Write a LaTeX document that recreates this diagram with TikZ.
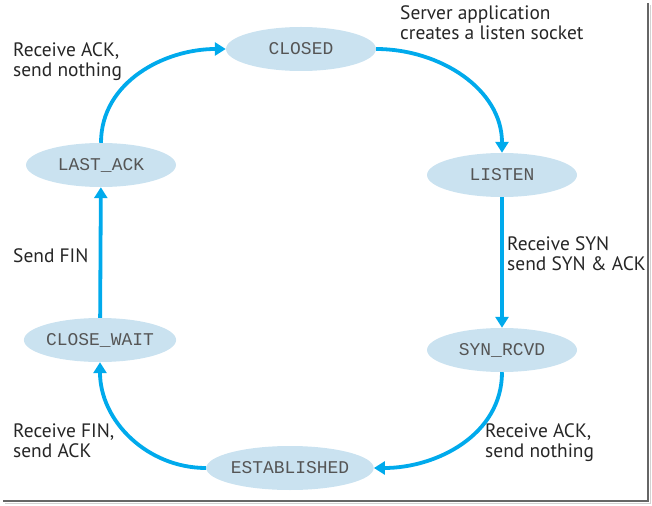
\documentclass[tikz,border=0pt]{standalone}
\usepackage{fontspec}
\setmainfont{PT Sans}
\setmonofont{Liberation Mono}
\usetikzlibrary{arrows.meta,positioning,shapes.geometric}
\definecolor{tcpblue}{RGB}{0,170,236}
\definecolor{tcpfill}{RGB}{202,226,240}
\definecolor{tcpgray}{RGB}{85,85,85}
\tikzset{
  tcpstate/.style={ellipse,fill=tcpfill,minimum width=150bp,minimum height=44bp,
    inner sep=0pt,text=tcpgray,font=\ttfamily\fontsize{18}{18}\selectfont},
  tcpedge/.style={draw=tcpblue,line width=3.8bp,-{Triangle[length=11bp,width=13bp]}},
  tcplabel/.style={anchor=north west,inner sep=0pt,align=left,text=black!85,
    font=\fontsize{19.5}{21}\selectfont}
}

\begin{document}
\begin{tikzpicture}[x=1bp,y=-1bp]
    \useasboundingbox (0,0) rectangle (652,506);
    % frame shadow
    \draw[gray!35,line width=1.5bp] (650.5,5) -- (650.5,503.5) -- (5,503.5);
    \draw[black!60,line width=1.5bp] (648,3) -- (648,501) -- (3,501);
    % states
    \node[tcpstate] (closed)    at (301,49)  {CLOSED};
    \node[tcpstate] (lastack)   at (101,165) {LAST\_ACK};
    \node[tcpstate] (listen)    at (502,175) {LISTEN};
    \node[tcpstate] (closewait) at (100,340) {CLOSE\_WAIT};
    \node[tcpstate] (synrcvd)   at (502,350) {SYN\_RCVD};
    \node[tcpstate] (estab)     at (290,468) {ESTABLISHED};
    % transitions
    \draw[tcpedge] (lastack.north) to[out=90,in=180] (closed.west);
    \draw[tcpedge] (closed.east) to[out=0,in=90] (listen.north);
    \draw[tcpedge] (listen) -- (synrcvd);
    \draw[tcpedge] (synrcvd.south) to[out=-90,in=0] (estab.east);
    \draw[tcpedge] (estab.west) to[out=180,in=-90] (closewait.south);
    \draw[tcpedge] (closewait) -- (lastack);
    % labels
    \node[tcplabel] (lblclosed) at (13,42)   {Receive ACK,\\send nothing};
    \node[tcplabel] (lbllisten) at (400,5)   {Server application\\creates a listen socket};
    \node[tcplabel] (lblfin)    at (13,248)  {Send FIN};
    \node[tcplabel] (lblsyn)    at (507,236) {Receive SYN\\send SYN \& ACK};
    \node[tcplabel] (lblwait)   at (13,423)  {Receive FIN,\\send ACK};
    \node[tcplabel] (lblestab)  at (485,423) {Receive ACK,\\send nothing};
  \end{tikzpicture}
\end{document}
